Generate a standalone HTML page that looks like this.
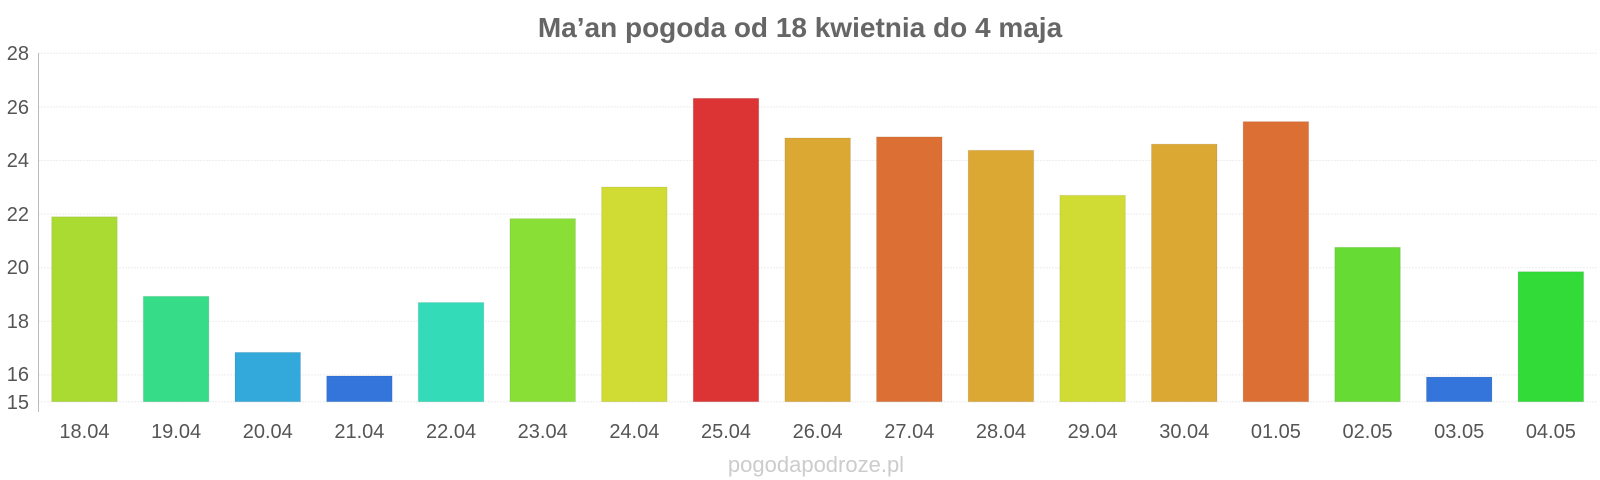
<!DOCTYPE html>
<html><head><meta charset="utf-8"><style>body{margin:0;background:#fff}svg{display:block}</style></head>
<body>
<svg width="1600" height="480" viewBox="0 0 1600 480" xmlns="http://www.w3.org/2000/svg" font-family="Liberation Sans, sans-serif">
<text x="800" y="37" text-anchor="middle" font-size="28" font-weight="bold" fill="#666">Ma’an pogoda od 18 kwietnia do 4 maja</text>
<g stroke="#eee" stroke-width="1" stroke-dasharray="2,1">
<line x1="38" x2="1598" y1="53.3" y2="53.3"/><line x1="38" x2="1598" y1="106.9" y2="106.9"/>
<line x1="38" x2="1598" y1="160.5" y2="160.5"/><line x1="38" x2="1598" y1="214.1" y2="214.1"/>
<line x1="38" x2="1598" y1="267.7" y2="267.7"/><line x1="38" x2="1598" y1="321.3" y2="321.3"/>
<line x1="38" x2="1598" y1="374.9" y2="374.9"/><line x1="38" x2="1598" y1="401.7" y2="401.7"/>
</g>
<line x1="38.5" x2="38.5" y1="53" y2="412" stroke="#bbb"/>
<g font-size="20" fill="#555" text-anchor="end">
<text x="29" y="60">28</text><text x="29" y="114">26</text><text x="29" y="167">24</text>
<text x="29" y="221">22</text><text x="29" y="274">20</text><text x="29" y="328">18</text>
<text x="29" y="381">16</text><text x="29" y="409">15</text>
</g>
<g id="bars"></g>
<g id="labels" font-size="20" fill="#555" text-anchor="middle"></g>
<text x="816" y="472" text-anchor="middle" font-size="22" fill="#ccc">pogodapodroze.pl</text>
<script>
var v=[21.9,18.93,16.84,15.96,18.7,21.83,23.01,26.32,24.84,24.88,24.38,22.7,24.61,25.45,20.76,15.92,19.85];
var c=["#aadb33","#36dc88","#33a8db","#3375db","#33dbb8","#8adf36","#d0dc33","#dc3434","#dca834","#dc7034","#dca834","#d0dc33","#dca834","#dc7034","#66db33","#3375db","#33db38"];
var l=["18.04","19.04","20.04","21.04","22.04","23.04","24.04","25.04","26.04","27.04","28.04","29.04","30.04","01.05","02.05","03.05","04.05"];
var ns="http://www.w3.org/2000/svg",b=document.getElementById("bars"),t=document.getElementById("labels");
for(var i=0;i<17;i++){var x=51.7+i*91.65,y=53.3+(28-v[i])*26.8;
var r=document.createElementNS(ns,"rect");r.setAttribute("x",x);r.setAttribute("y",y);r.setAttribute("width",65.5);r.setAttribute("height",401.7-y);r.setAttribute("fill",c[i]);r.setAttribute("stroke","rgba(0,0,0,0.08)");b.appendChild(r);
var s=document.createElementNS(ns,"text");s.setAttribute("x",x+32.75);s.setAttribute("y",438);s.textContent=l[i];t.appendChild(s);}
</script>
</svg>
</body></html>
